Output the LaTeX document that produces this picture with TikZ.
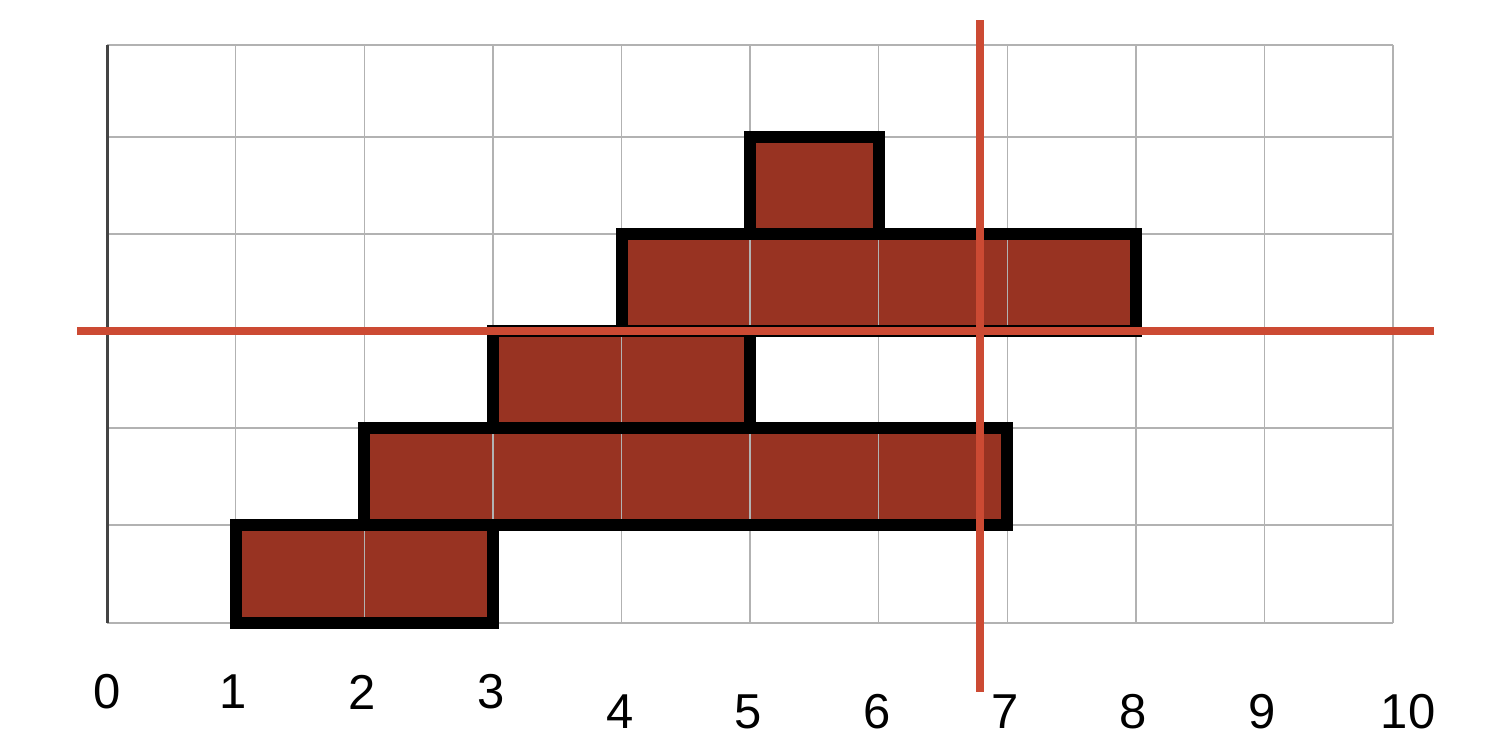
\documentclass[tikz,border=0pt]{standalone}
\usepackage{fontspec}
\setmainfont{Liberation Sans}
\definecolor{brick}{RGB}{152,51,34}
\definecolor{redline}{RGB}{204,74,51}
\definecolor{gridgray}{RGB}{178,178,178}
\definecolor{axisgray}{RGB}{68,68,68}
\begin{document}
\begin{tikzpicture}[x=0.5pt,y=-0.5pt,
  blockfill/.style={fill=brick},
  blockedge/.style={draw=black,line width=6.25pt,line join=miter},
  gridline/.style={draw=gridgray,line width=0.7pt},
  axisline/.style={draw=axisgray,line width=1.5pt},
  cutline/.style={draw=redline,line width=4.3pt},
  ticklabel/.style={font=\fontsize{24.5pt}{28pt}\selectfont,inner sep=0pt,anchor=center}]
\useasboundingbox (0,0) rectangle (1488,746);
% fills
\path[blockfill] (236,525) rectangle (493,623);
\path[blockfill] (364,428) rectangle (1007,525);
\path[blockfill] (493,331) rectangle (750,428);
\path[blockfill] (622,234) rectangle (1136,331);
\path[blockfill] (750,137) rectangle (879,234);
% grid
\foreach \i in {1,...,10} {
  \draw[gridline] ({107+128.6*\i},45) -- ({107+128.6*\i},623);
}
\foreach \y in {45,137,234,331,428,525,623} {
  \draw[gridline] (107,\y) -- (1393,\y);
}
\draw[axisline] (107,45) -- (107,623);
% borders
\draw[blockedge] (236,525) rectangle (493,623);
\draw[blockedge] (364,428) rectangle (1007,525);
\draw[blockedge] (493,331) rectangle (750,428);
\draw[blockedge] (622,234) rectangle (1136,331);
\draw[blockedge] (750,137) rectangle (879,234);
% red cut lines
\coordinate (hl) at (77,331);
\coordinate (hr) at (1434,331);
\coordinate (vt) at (980,20);
\coordinate (vb) at (980,692);
\draw[cutline] (hl) -- (hr);
\draw[cutline] (vt) -- (vb);
% labels
\node[ticklabel] (l0) at (107,692) {0};
\node[ticklabel] (l1) at (233,692) {1};
\node[ticklabel] (l2) at (362,692) {2};
\node[ticklabel] (l3) at (491,692) {3};
\node[ticklabel] (l4) at (620,712) {4};
\node[ticklabel] (l5) at (748,712) {5};
\node[ticklabel] (l6) at (877,712) {6};
\node[ticklabel] (l7) at (1005,712) {7};
\node[ticklabel] (l8) at (1133,712) {8};
\node[ticklabel] (l9) at (1262,712) {9};
\node[ticklabel] (l10) at (1408,712) {10};
\end{tikzpicture}
\end{document}
